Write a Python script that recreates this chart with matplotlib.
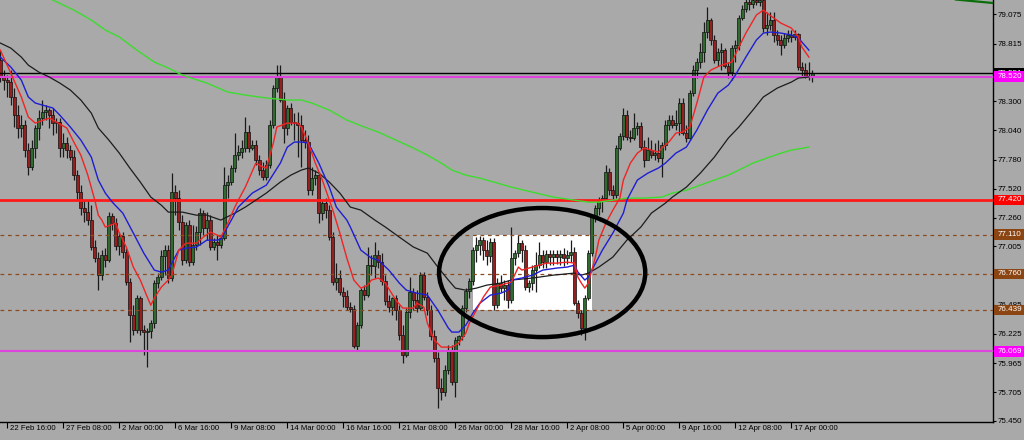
import matplotlib
matplotlib.use('Agg')
import matplotlib.pyplot as plt
from matplotlib.patches import Rectangle, Ellipse
from matplotlib.collections import LineCollection, PatchCollection
import matplotlib.transforms as mtransforms

# ---------------- data ----------------
first_open = 78.667
closes = [
    78.524, 78.489, 78.471, 78.338, 78.176, 78.061, 78.087, 77.864, 77.713, 77.883,
    78.061, 78.150, 78.203, 78.221, 78.176, 78.105, 78.114, 77.883, 77.927, 77.864,
    77.802, 77.641, 77.489, 77.347, 77.311, 77.240, 76.999, 76.901, 76.749, 76.927,
    76.883, 77.275, 77.213, 77.007, 77.097, 76.954, 76.687, 76.392, 76.259, 76.544,
    76.259, 76.241, 76.250, 76.321, 76.678, 76.732, 76.918, 76.972, 76.723, 77.489,
    77.436, 77.222, 76.883, 77.195, 76.865, 77.017, 77.133, 77.302, 77.169, 77.240,
    76.999, 77.043, 77.017, 77.079, 77.552, 77.579, 77.704, 77.820, 77.846, 77.883,
    78.025, 77.883, 77.909, 77.775, 77.686, 77.624, 77.731, 78.087, 78.418, 78.516,
    78.311, 78.061, 78.240, 78.114, 78.105, 78.087, 77.954, 77.936, 77.507, 77.614,
    77.641, 77.302, 77.391, 77.329, 77.088, 76.687, 76.723, 76.597, 76.562, 76.464,
    76.446, 76.116, 76.303, 76.615, 76.571, 76.838, 76.829, 76.927, 76.865, 76.696,
    76.517, 76.464, 76.544, 76.437, 76.214, 76.035, 76.419, 76.597, 76.526, 76.455,
    76.749, 76.553, 76.437, 76.205, 76.009, 75.741, 75.705, 75.902, 76.080, 75.795,
    76.169, 76.205, 76.455, 76.606, 76.696, 76.972, 77.017, 77.061, 76.972, 76.918,
    77.043, 76.481, 76.678, 76.633, 76.660, 76.526, 76.901, 76.945, 77.034, 76.972,
    76.642, 76.678, 76.794, 76.838, 76.927, 76.865, 76.936, 76.910, 76.936, 76.910,
    76.936, 76.901, 76.927, 76.954, 76.499, 76.410, 76.277, 76.544, 76.945, 77.266,
    77.347, 77.418, 77.436, 77.668, 77.507, 77.462, 77.883, 77.990, 78.176, 77.981,
    77.972, 78.061, 78.079, 77.892, 77.775, 77.864, 77.820, 77.837, 77.793, 77.909,
    78.087, 78.132, 78.087, 78.105, 78.284, 78.016, 77.972, 78.373, 78.578, 78.649,
    78.738, 78.917, 79.024, 78.846, 78.667, 78.738, 78.756, 78.613, 78.560, 78.774,
    78.801, 79.042, 79.122, 79.185, 79.167, 79.203, 79.185, 79.203, 78.953, 78.980,
    79.024, 78.891, 78.846, 78.801, 78.864, 78.891, 78.873, 78.900, 78.605, 78.578,
    78.524, 78.524, 78.551]
highs = [
    78.756, 78.578, 78.533, 78.578, 78.418, 78.266, 78.176, 78.132, 77.927, 77.954,
    78.087, 78.221, 78.311, 78.266, 78.240, 78.240, 78.150, 78.150, 78.016, 77.981,
    77.909, 77.864, 77.686, 77.552, 77.418, 77.418, 77.373, 77.061, 76.954, 76.972,
    76.990, 77.311, 77.302, 77.258, 77.133, 77.133, 76.990, 76.723, 76.481, 76.571,
    76.562, 76.303, 76.277, 76.348, 76.705, 76.767, 76.972, 77.017, 77.017, 77.659,
    77.552, 77.507, 77.284, 77.222, 77.240, 77.195, 77.186, 77.347, 77.329, 77.311,
    77.284, 77.079, 77.106, 77.097, 77.713, 77.641, 77.731, 78.016, 77.909, 77.954,
    78.159, 78.087, 77.954, 77.954, 77.820, 77.757, 77.775, 78.132, 78.444, 78.622,
    78.622, 78.382, 78.266, 78.284, 78.194, 78.203, 78.176, 78.043, 77.998, 77.713,
    77.686, 77.668, 77.418, 77.436, 77.373, 77.133, 76.856, 76.794, 76.642, 76.615,
    76.508, 76.481, 76.330, 76.633, 76.660, 76.999, 76.927, 77.043, 76.972, 76.945,
    76.749, 76.571, 76.553, 76.571, 76.481, 76.303, 76.455, 76.732, 76.633, 76.615,
    76.776, 76.776, 76.597, 76.481, 76.259, 76.062, 75.830, 75.946, 76.125, 76.125,
    76.196, 76.214, 76.481, 76.633, 76.723, 76.999, 77.088, 77.097, 77.088, 77.061,
    77.079, 77.079, 76.723, 76.749, 76.705, 76.705, 77.178, 76.972, 77.106, 77.061,
    77.017, 76.705, 76.838, 76.954, 77.043, 76.972, 76.972, 76.972, 76.972, 76.972,
    76.972, 76.990, 76.972, 77.061, 76.999, 76.526, 76.437, 76.571, 76.972, 77.284,
    77.373, 77.445, 77.462, 77.731, 77.704, 77.552, 77.909, 78.016, 78.240, 78.221,
    78.043, 78.194, 78.114, 78.114, 77.954, 77.981, 77.954, 77.927, 77.954, 77.936,
    78.132, 78.176, 78.176, 78.221, 78.329, 78.329, 78.087, 78.400, 78.622, 78.685,
    78.819, 79.006, 79.141, 79.042, 78.891, 78.774, 78.819, 78.774, 78.649, 78.801,
    78.846, 79.069, 79.158, 79.230, 79.239, 79.257, 79.274, 79.248, 79.230, 79.096,
    79.096, 79.096, 78.935, 78.891, 78.908, 78.935, 78.935, 78.935, 78.908, 78.649,
    78.640, 78.649, 78.578]
lows = [
    78.471, 78.400, 78.338, 78.266, 78.070, 77.972, 77.981, 77.802, 77.641, 77.686,
    77.793, 77.954, 78.087, 78.132, 78.061, 77.998, 78.016, 77.802, 77.802, 77.793,
    77.775, 77.597, 77.418, 77.284, 77.222, 77.195, 76.972, 76.865, 76.615, 76.705,
    76.821, 76.865, 77.151, 76.972, 76.927, 76.901, 76.660, 76.151, 76.214, 76.232,
    76.214, 76.035, 75.929, 76.187, 76.277, 76.633, 76.705, 76.749, 76.678, 76.696,
    77.284, 77.151, 76.838, 76.856, 76.829, 76.838, 76.972, 77.017, 77.106, 77.061,
    76.972, 76.972, 76.883, 76.990, 77.061, 77.436, 77.552, 77.668, 77.775, 77.793,
    77.846, 77.846, 77.864, 77.731, 77.641, 77.597, 77.597, 77.704, 78.061, 78.382,
    78.293, 77.927, 77.998, 78.087, 77.954, 77.802, 77.713, 77.883, 77.462, 77.462,
    77.552, 77.213, 77.240, 77.258, 77.061, 76.660, 76.615, 76.571, 76.464, 76.437,
    76.419, 76.098, 76.080, 76.277, 76.526, 76.553, 76.749, 76.723, 76.812, 76.660,
    76.481, 76.419, 76.392, 76.348, 76.169, 75.964, 76.018, 76.366, 76.437, 76.419,
    76.437, 76.526, 76.392, 76.169, 75.973, 75.563, 75.634, 75.670, 75.866, 75.768,
    75.661, 76.125, 76.169, 76.419, 76.544, 76.660, 76.865, 76.927, 76.883, 76.838,
    76.865, 76.437, 76.455, 76.597, 76.526, 76.455, 76.499, 76.838, 76.910, 76.865,
    76.615, 76.597, 76.615, 76.597, 76.812, 76.812, 76.812, 76.838, 76.838, 76.847,
    76.838, 76.829, 76.847, 76.865, 76.481, 76.366, 76.214, 76.169, 76.526, 76.918,
    77.222, 77.284, 77.311, 77.418, 77.462, 77.418, 77.436, 77.864, 77.954, 77.954,
    77.936, 77.954, 77.998, 77.864, 77.713, 77.775, 77.793, 77.775, 77.757, 77.624,
    77.864, 78.043, 78.061, 78.043, 77.998, 77.998, 77.936, 77.954, 78.346, 78.507,
    78.596, 78.649, 78.864, 78.801, 78.640, 78.613, 78.578, 78.596, 78.507, 78.489,
    78.649, 78.756, 79.024, 79.096, 79.113, 79.131, 79.158, 79.149, 78.917, 78.891,
    78.935, 78.828, 78.801, 78.711, 78.774, 78.828, 78.828, 78.846, 78.578, 78.516,
    78.507, 78.489, 78.471]
opens = [first_open] + closes[:-1]

# moving averages (bar index, price)
red_idx = [0, 3, 6, 8, 10, 14, 16, 19, 21, 23, 25, 27, 28, 29, 30, 33, 34, 36, 38, 40,
           42, 43, 44, 46, 48, 49, 51, 53, 56, 58, 60, 62, 63, 65, 67, 68, 70, 73, 75, 76,
           78, 79, 82, 85, 86, 88, 90, 92, 94, 95, 97, 99, 101, 103, 105, 106, 108, 110, 113, 115,
           118, 119, 121, 122, 124, 126, 129, 131, 133, 134, 136, 138, 140, 143, 146, 148, 149, 151, 154, 156,
           159, 162, 164, 165, 166, 167, 168, 169, 170, 171, 173, 175, 177, 178, 180, 182, 184, 186, 188, 189,
           191, 193, 195, 197, 199, 201, 203, 206, 209, 211, 213, 216, 218, 219, 221, 223, 226, 228, 229, 231]
red_val = [78.756, 78.551, 78.338, 78.159, 78.105, 78.150, 78.114, 78.061, 77.936, 77.820,
           77.641, 77.418, 77.284, 77.240, 77.178, 77.213, 77.124, 76.999, 76.821, 76.705,
           76.553, 76.481, 76.544, 76.642, 76.705, 76.749, 76.972, 77.034, 77.034, 77.088,
           77.133, 77.106, 77.088, 77.213, 77.356, 77.418, 77.534, 77.748, 77.713, 77.704,
           77.927, 78.070, 78.105, 78.105, 78.070, 77.927, 77.748, 77.597, 77.418, 77.329,
           77.124, 76.901, 76.705, 76.633, 76.660, 76.705, 76.723, 76.678, 76.526, 76.455,
           76.455, 76.499, 76.464, 76.321, 76.169, 76.107, 76.107, 76.143, 76.232, 76.321,
           76.437, 76.553, 76.642, 76.660, 76.687, 76.821, 76.794, 76.812, 76.838, 76.856,
           76.856, 76.865, 76.856, 76.732, 76.678, 76.633, 76.678, 76.794, 76.910, 77.061,
           77.213, 77.329, 77.436, 77.597, 77.748, 77.837, 77.883, 77.864, 77.846, 77.883,
           77.936, 78.016, 78.025, 78.070, 78.284, 78.516, 78.578, 78.622, 78.649, 78.783,
           78.908, 79.069, 79.113, 79.087, 79.042, 78.997, 78.953, 78.873, 78.783, 78.694]
blue_idx = [0, 3, 6, 8, 10, 12, 15, 17, 20, 23, 26, 28, 30, 32, 35, 38, 41, 44, 46, 48,
            49, 51, 53, 56, 59, 62, 63, 66, 68, 70, 72, 76, 80, 82, 84, 86, 88, 91, 94, 96,
            99, 100, 103, 106, 108, 111, 114, 116, 119, 122, 125, 128, 129, 131, 133, 135, 137, 140, 143, 145,
            146, 149, 152, 155, 159, 162, 164, 165, 167, 168, 169, 172, 175, 178, 179, 182, 185, 188, 190, 193,
            196, 199, 202, 205, 208, 210, 213, 216, 218, 220, 223, 226, 228, 231]
blue_val = [78.694, 78.605, 78.489, 78.338, 78.284, 78.266, 78.240, 78.176, 78.070, 77.954,
            77.802, 77.597, 77.481, 77.400, 77.302, 77.124, 76.945, 76.794, 76.776, 76.794,
            76.856, 76.972, 76.990, 76.999, 77.061, 77.061, 77.070, 77.240, 77.356, 77.418,
            77.481, 77.552, 77.748, 77.891, 77.936, 77.936, 77.927, 77.748, 77.534, 77.356,
            77.240, 77.178, 76.972, 76.901, 76.883, 76.794, 76.678, 76.615, 76.588, 76.571,
            76.437, 76.277, 76.241, 76.241, 76.303, 76.410, 76.499, 76.571, 76.588, 76.615,
            76.705, 76.723, 76.749, 76.794, 76.812, 76.821, 76.838, 76.776, 76.705, 76.732,
            76.794, 76.972, 77.124, 77.302, 77.418, 77.597, 77.659, 77.704, 77.748, 77.837,
            77.891, 78.043, 78.221, 78.373, 78.444, 78.533, 78.694, 78.846, 78.908, 78.917,
            78.908, 78.891, 78.864, 78.756]
black_idx = [0, 3, 6, 8, 11, 14, 17, 20, 23, 26, 28, 31, 34, 37, 40, 43, 46, 48, 52, 56,
             59, 63, 67, 70, 73, 76, 80, 83, 86, 88, 91, 94, 97, 100, 103, 107, 110, 114, 118, 122,
             125, 128, 130, 133, 136, 139, 143, 146, 152, 158, 164, 166, 168, 171, 175, 179, 183, 186, 190, 192,
             196, 200, 204, 208, 211, 215, 218, 222, 226, 228, 231]
black_val = [78.819, 78.774, 78.694, 78.622, 78.560, 78.516, 78.462, 78.400, 78.311, 78.194,
             78.061, 77.954, 77.837, 77.704, 77.579, 77.445, 77.373, 77.311, 77.311, 77.284,
             77.284, 77.240, 77.302, 77.356, 77.418, 77.481, 77.579, 77.641, 77.686, 77.704,
             77.659, 77.579, 77.481, 77.356, 77.329, 77.240, 77.178, 77.088, 77.000, 76.945,
             76.821, 76.705, 76.633, 76.615, 76.633, 76.660, 76.678, 76.705, 76.723, 76.749,
             76.767, 76.749, 76.767, 76.821, 76.910, 77.061, 77.178, 77.302, 77.391, 77.445,
             77.534, 77.659, 77.802, 77.972, 78.070, 78.221, 78.338, 78.418, 78.471, 78.507,
             78.516]
green_idx = [15, 21, 26, 30, 34, 39, 44, 48, 52, 59, 65, 70, 76, 82, 86, 89, 94, 99, 104, 108,
             113, 118, 122, 126, 129, 133, 137, 141, 146, 152, 158, 164, 168, 171, 175, 179, 184, 189, 192, 196,
             200, 204, 208, 211, 215, 219, 223, 226, 231]
green_val = [79.203, 79.113, 79.024, 78.935, 78.873, 78.756, 78.649, 78.596, 78.533, 78.462,
             78.382, 78.355, 78.329, 78.311, 78.311, 78.284, 78.221, 78.132, 78.070, 78.025,
             77.954, 77.883, 77.820, 77.748, 77.686, 77.641, 77.614, 77.579, 77.534, 77.489,
             77.445, 77.418, 77.400, 77.400, 77.418, 77.436, 77.436, 77.445, 77.481, 77.507,
             77.552, 77.597, 77.641, 77.686, 77.748, 77.793, 77.837, 77.864, 77.891]
dkgreen_idx = [273, 284]
dkgreen_val = [79.207, 79.175]

bid_price = 78.551
level_prices = [78.520, 77.420, 77.110, 76.760, 76.439, 76.069]
level_colors = ['#ff00ff', '#ff0000', '#8b4513', '#8b4513', '#8b4513', '#ff00ff']
ytick_vals = [79.075, 78.815, 78.555, 78.300, 78.040, 77.780, 77.520, 77.260, 77.005,
              76.745, 76.485, 76.225, 75.965, 75.705, 75.450]
hidden_ticks = [78.555, 76.745]   # covered by the price-label boxes
xtick_pos = [2, 18, 34, 50, 66, 82, 98, 114, 130, 146, 162, 178, 194, 210, 226]
xtick_labels = ['22 Feb 16:00', '27 Feb 08:00', '2 Mar 00:00', '6 Mar 16:00', '9 Mar 08:00',
                '14 Mar 00:00', '16 Mar 16:00', '21 Mar 08:00', '26 Mar 00:00', '28 Mar 16:00',
                '2 Apr 08:00', '5 Apr 00:00', '9 Apr 16:00', '12 Apr 08:00', '17 Apr 00:00']
box_time = (135.0, 169.1)
box_price = (76.439, 77.110)
ellipse_center = (154.8, 76.772)
ellipse_size = (58.9, 1.151)

# ---------------- drawing ----------------
FONT = ['Liberation Sans', 'DejaVu Sans']
plt.rcParams['font.family'] = FONT
BG = '#a9a9a9'

fig = plt.figure(figsize=(10.24, 4.4), dpi=100, facecolor=BG)
ax = fig.add_axes([0, 18 / 440, 993 / 1024, 422 / 440], facecolor=BG)
ax.set_xlim(-0.086, 283.6)
ax.set_ylim(75.439, 79.203)

# white rectangle object
ax.add_patch(Rectangle((box_time[0], box_price[0]), box_time[1] - box_time[0],
                       box_price[1] - box_price[0], facecolor='white', edgecolor='none', zorder=1))

# candles
wicks = []
bodies = []
body_colors = []
for i, (o, h, l, c) in enumerate(zip(opens, highs, lows, closes)):
    wicks.append([(i, l), (i, h)])
    bottom = min(o, c)
    height = max(abs(c - o), 0.004)
    bodies.append(Rectangle((i - 0.4, bottom), 0.8, height))
    body_colors.append('#2f6b2f' if c >= o else '#962020')
ax.add_collection(LineCollection(wicks, colors='#1a1a1a', linewidths=0.9, zorder=3))
ax.add_collection(PatchCollection(bodies, facecolors=body_colors, edgecolors='#111111',
                                  linewidths=0.5, zorder=3.2))

# horizontal lines
ax.axhline(bid_price, color='#000000', lw=1.0, zorder=4)
for p, col in zip(level_prices, level_colors):
    if col == '#8b4513':
        ax.axhline(p, color='#8b4a20', lw=0.9, ls=(0, (3, 3)), zorder=4)
    elif col == '#ff0000':
        ax.axhline(p, color='#ff1a1a', lw=2.0, zorder=4)
    else:
        ax.axhline(p, color='#dd44dd', lw=1.5, zorder=4)

# moving averages
ax.plot(green_idx, green_val, color='#3ddc2e', lw=1.0, zorder=5)
ax.plot(black_idx, black_val, color='#1c1c1c', lw=0.9, zorder=5)
ax.plot(blue_idx, blue_val, color='#1e1ed2', lw=1.0, zorder=5)
ax.plot(red_idx, red_val, color='#f02424', lw=1.0, zorder=5)
ax.plot(dkgreen_idx, dkgreen_val, color='#0a6e0a', lw=1.6, zorder=5)

# ellipse
ax.add_patch(Ellipse(ellipse_center, ellipse_size[0], ellipse_size[1], fill=False,
                     edgecolor='black', lw=3.2, zorder=6))

# axes styling
for s in ['left', 'top']:
    ax.spines[s].set_visible(False)
for s in ['right', 'bottom']:
    ax.spines[s].set_color('black')
    ax.spines[s].set_linewidth(1.0)
ax.yaxis.tick_right()
ax.set_yticks(ytick_vals)
ax.set_yticklabels(['' if v in hidden_ticks else f'{v:.3f}' for v in ytick_vals])
ax.tick_params(axis='y', direction='out', length=2.5, width=0.8, pad=1.2, labelsize=5.8,
               colors='black')
ax.set_xticks(xtick_pos)
ax.set_xticklabels([])
ax.tick_params(axis='x', direction='out', length=4, width=0.8, colors='black')
for pos, lab in zip(xtick_pos, xtick_labels):
    ax.annotate(lab, xy=(pos, 0), xycoords=('data', 'axes fraction'), xytext=(2.5, -3),
                textcoords='offset pixels', ha='left', va='top', fontsize=5.6, color='black',
                annotation_clip=False)

# price label boxes on the right axis
trans = mtransforms.blended_transform_factory(ax.transAxes, ax.transData)
box_w = 31 / 993
box_h = 0.095
labels = [(bid_price, '#000000')] + list(zip(level_prices, level_colors))
for k, (p, col) in enumerate(labels):
    ax.add_patch(Rectangle((1.001, p - box_h / 2), box_w, box_h, transform=trans,
                           facecolor=col, edgecolor='none', clip_on=False, zorder=20 + k))
    ax.text(1.0045, p, f'{p:.3f}', transform=trans, ha='left', va='center', fontsize=5.8,
            color='white', clip_on=False, zorder=20 + k)

fig.savefig('out.png', dpi=100, facecolor=BG)
